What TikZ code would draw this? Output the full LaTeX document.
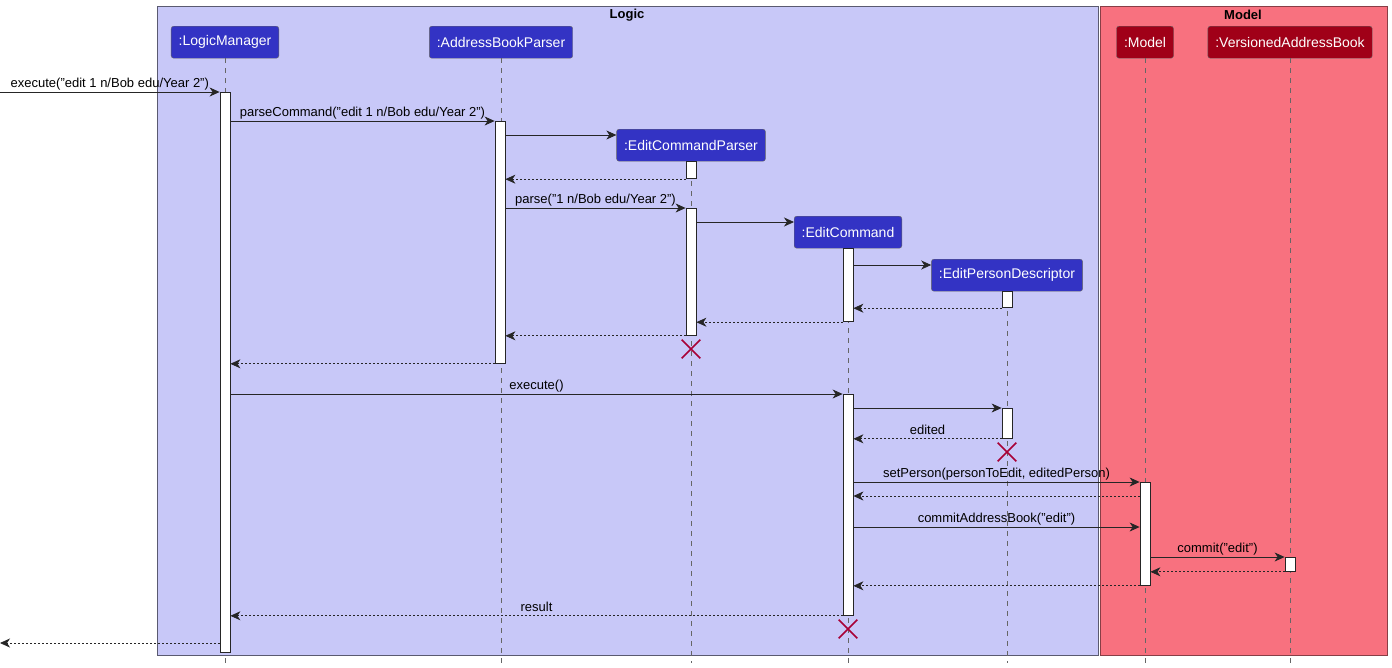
\documentclass[tikz,border=0pt]{standalone}
\usepackage{fontspec}
\setmainfont{Liberation Sans}
\usetikzlibrary{arrows.meta,shapes.misc}
\definecolor{logicbg}{HTML}{C8C8F8}
\definecolor{modelbg}{HTML}{F8717F}
\definecolor{logicpart}{HTML}{3333C4}
\definecolor{modelpart}{HTML}{A00018}
\definecolor{killred}{HTML}{A80036}

\begin{document}
\begin{tikzpicture}[x=1pt,y=-1pt,
  part/.style={draw=black!60, rounded corners=2.5pt, text=white, minimum height=32pt, inner xsep=7.5pt, anchor=north, font=\fontsize{14}{16}\selectfont},
  life/.style={draw=black!60, dash pattern=on 5pt off 5pt, line width=0.8pt},
  act/.style={draw=black!85, fill=white, minimum width=10pt, inner sep=0pt, anchor=north, line width=0.8pt},
  call/.style={-{Stealth[length=10pt,width=9pt,inset=3pt]}, line width=0.8pt, black!85},
  ret/.style={call, dash pattern=on 2pt off 2pt},
  lbl/.style={above, inner sep=1pt, text depth=3pt, font=\fontsize{13}{15}\selectfont, text=black},
  kill/.style={cross out, draw=killred, line width=1.6pt, minimum size=17pt, inner sep=0pt},
  title/.style={font=\bfseries\fontsize{13}{15}\selectfont}]
  \useasboundingbox (0,0) rectangle (1392,667);

  % boxes
  \draw[fill=logicbg, draw=black!55!logicbg, line width=0.9pt] (157,6) rectangle (1098,655);
  \draw[fill=modelbg, draw=black!45!modelbg, line width=0.9pt] (1100,6) rectangle (1387,655);
  \node[title] (logicT) at (627,15) {Logic};
  \node[title] (modelT) at (1243,15) {Model};

  % participants
  \node[part, fill=logicpart] (lm) at (225,26) {:LogicManager};
  \node[part, fill=logicpart] (abp) at (501,26) {:AddressBookParser};
  \node[part, fill=logicpart] (ecp) at (691,129) {:EditCommandParser};
  \node[part, fill=logicpart] (ec) at (848,216) {:EditCommand};
  \node[part, fill=logicpart] (epd) at (1007,259) {:EditPersonDescriptor};
  \node[part, fill=modelpart] (m) at (1145,26) {:Model};
  \node[part, fill=modelpart] (vab) at (1290,26) {:VersionedAddressBook};

  \foreach \p in {lm,abp,ecp,ec,epd,m,vab}
    \draw[life] (\p.south) -- (\p.south |- 0,663);

  % activations
  \node[act, minimum height=560pt] (aLM) at (225,92) {};
  \node[act, minimum height=242pt] (aABP) at (500,121) {};
  \node[act, minimum height=17pt] (aECP1) at (ecp.south) {};
  \node[act, minimum height=127pt] (aECP2) at (691,208) {};
  \node[act, minimum height=73pt] (aEC1) at (ec.south) {};
  \node[act, minimum height=221pt] (aEC2) at (848,394) {};
  \node[act, minimum height=16pt] (aEPD1) at (epd.south) {};
  \node[act, minimum height=30pt] (aEPD2) at (1007,408) {};
  \node[act, minimum height=103pt] (aM) at (1145,482) {};
  \node[act, minimum height=14pt] (aVAB) at (1290,557) {};

  \coordinate (in) at (0,92);
  \coordinate (out) at (0,643);

  % messages
  \draw[call] (in) -- node[lbl]{execute("edit 1 n/Bob edu/Year 2")} (aLM.north west);
  \draw[call] (aLM.east |- 0,121) -- node[lbl]{parseCommand("edit 1 n/Bob edu/Year 2")} (aABP.north west);
  \draw[call] (aABP.east |- 0,135) -- (ecp.west |- 0,135);
  \draw[ret] (aECP1.south west) -- (aABP.east |- aECP1.south);
  \draw[call] (aABP.east |- 0,208) -- node[lbl]{parse("1 n/Bob edu/Year 2")} (aECP2.north west);
  \draw[call] (aECP2.east |- 0,222) -- (ec.west |- 0,222);
  \draw[call] (aEC1.east |- 0,265) -- (epd.west |- 0,265);
  \draw[ret] (aEPD1.south west) -- (aEC1.east |- aEPD1.south);
  \draw[ret] (aEC1.south west) -- (aECP2.east |- aEC1.south);
  \draw[ret] (aECP2.south west) -- (aABP.east |- aECP2.south);
  \node[kill] (xECP) at (691,349) {};
  \draw[ret] (aABP.south west) -- (aLM.east |- aABP.south);
  \draw[call] (aLM.east |- 0,394) -- node[lbl]{execute()} (aEC2.north west);
  \draw[call] (aEC2.east |- 0,408) -- (aEPD2.north west);
  \draw[ret] (aEPD2.south west) -- node[lbl]{edited} (aEC2.east |- aEPD2.south);
  \node[kill] (xEPD) at (1007,452) {};
  \draw[call] (aEC2.east |- 0,482) -- node[lbl]{setPerson(personToEdit, editedPerson)} (aM.north west);
  \draw[ret] (aM.west |- 0,496) -- (aEC2.east |- 0,496);
  \draw[call] (aEC2.east |- 0,527) -- node[lbl]{commitAddressBook("edit")} (aM.west |- 0,527);
  \draw[call] (aM.east |- 0,557) -- node[lbl]{commit("edit")} (aVAB.north west);
  \draw[ret] (aVAB.south west) -- (aM.east |- aVAB.south);
  \draw[ret] (aM.south west) -- (aEC2.east |- aM.south);
  \draw[ret] (aEC2.south west) -- node[lbl]{result} (aLM.east |- aEC2.south);
  \node[kill] (xEC) at (848,629) {};
  \draw[ret] (aLM.west |- out) -- (out);
\end{tikzpicture}
\end{document}
